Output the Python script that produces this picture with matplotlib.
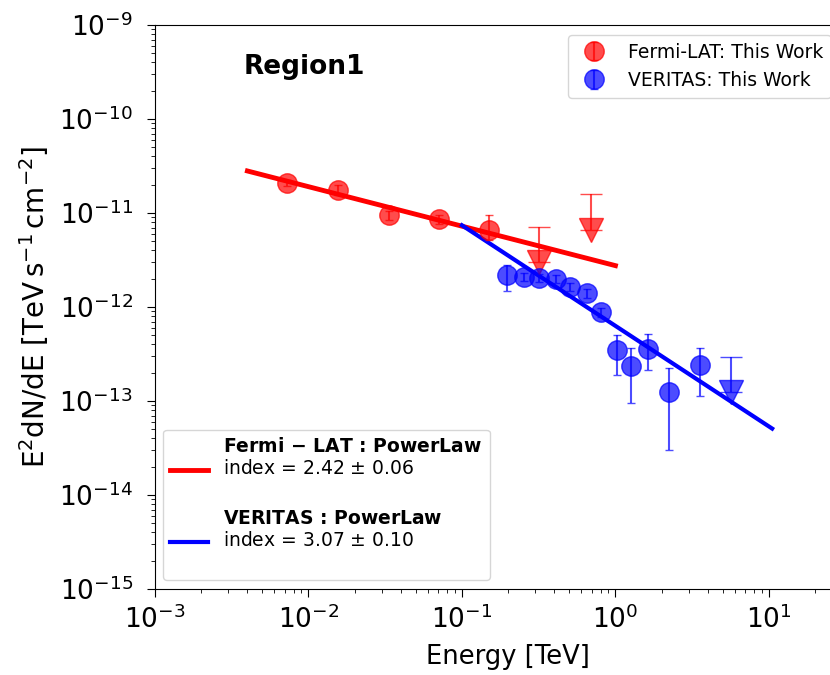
import numpy as np
import matplotlib
matplotlib.use('Agg')
import matplotlib.pyplot as plt

# Fermi-LAT flux points (TeV, TeV s^-1 cm^-2)
fermi_e = [0.00726, 0.0156, 0.0336, 0.0713, 0.151]
fermi_f = [2.08e-11, 1.76e-11, 9.5e-12, 8.6e-12, 6.6e-12]
fermi_lo = [1.5e-12, 2.0e-12, 1.0e-12, 1.0e-12, 1.5e-12]
fermi_hi = [1.5e-12, 2.4e-12, 1.0e-12, 1.0e-12, 2.9e-12]
# Fermi-LAT upper limits: marker position and limit value
fermi_ul_e = [0.32, 0.689]
fermi_ul_mark = [3.0e-12, 6.6e-12]
fermi_ul_val = [7.1e-12, 1.59e-11]

# VERITAS flux points
veritas_e = [0.198, 0.252, 0.32, 0.407, 0.509, 0.649, 0.80, 1.02, 1.27, 1.62, 2.25, 3.54]
veritas_f = [2.19e-12, 2.08e-12, 2.04e-12, 2.0e-12, 1.63e-12, 1.41e-12, 8.85e-13,
             3.49e-13, 2.36e-13, 3.57e-13, 1.25e-13, 2.42e-13]
veritas_lo = [0.71e-12, 0.2e-12, 0.2e-12, 0.2e-12, 0.15e-12, 0.15e-12, 1.0e-13,
              1.6e-13, 1.41e-13, 1.43e-13, 0.95e-13, 1.29e-13]
veritas_hi = [0.61e-12, 0.2e-12, 0.2e-12, 0.2e-12, 0.15e-12, 0.15e-12, 1.0e-13,
              1.51e-13, 1.3e-13, 1.59e-13, 1.0e-13, 1.24e-13]
veritas_ul_e = [5.64]
veritas_ul_mark = [1.25e-13]
veritas_ul_val = [2.94e-13]

# power-law fits: E^2 dN/dE = norm * (E / e0)^(2 - index)
fermi_index, fermi_err = 2.42, 0.06
fermi_norm, fermi_e0 = 2.8e-11, 0.004
fermi_range = [0.004, 1.0]
veritas_index, veritas_err = 3.07, 0.10
veritas_norm, veritas_e0 = 7.4e-12, 0.1
veritas_range = [0.1, 10.5]

fig = plt.figure(figsize=(8.3, 6.75), dpi=100)
ax = fig.add_axes([155 / 830, 86 / 675, 706 / 830, 564 / 675])

# fitted lines
ef = np.logspace(np.log10(fermi_range[0]), np.log10(fermi_range[1]), 50)
ev = np.logspace(np.log10(veritas_range[0]), np.log10(veritas_range[1]), 50)
l1, = ax.plot(ef, fermi_norm * (ef / fermi_e0) ** (2 - fermi_index), color='red', lw=3.5,
              label=r'$\bf{Fermi\,-\,LAT\,:\,PowerLaw}$' + '\n' +
                    'index = %.2f $\\pm$ %.2f' % (fermi_index, fermi_err) + '\n')
l2, = ax.plot(ev, veritas_norm * (ev / veritas_e0) ** (2 - veritas_index), color='blue', lw=3,
              label=r'$\bf{VERITAS\,:\,PowerLaw}$' + '\n' +
                    'index = %.2f $\\pm$ %.2f' % (veritas_index, veritas_err) + '\n')

# data points
p1 = ax.errorbar(fermi_e, fermi_f, yerr=[fermi_lo, fermi_hi], fmt='o', color='red', alpha=0.7,
                 ms=14, capsize=3, elinewidth=1.5, label='Fermi-LAT: This Work')
ax.errorbar(fermi_ul_e, fermi_ul_mark,
            yerr=[np.zeros(len(fermi_ul_e)), np.array(fermi_ul_val) - np.array(fermi_ul_mark)],
            fmt='v', color='red', alpha=0.7, ms=17, capsize=8, elinewidth=1.5)
p2 = ax.errorbar(veritas_e, veritas_f, yerr=[veritas_lo, veritas_hi], fmt='o', color='blue',
                 alpha=0.7, ms=14, capsize=3, elinewidth=1.5, label='VERITAS: This Work')
ax.errorbar(veritas_ul_e, veritas_ul_mark,
            yerr=[np.zeros(len(veritas_ul_e)), np.array(veritas_ul_val) - np.array(veritas_ul_mark)],
            fmt='v', color='blue', alpha=0.7, ms=17, capsize=8, elinewidth=1.5)

ax.set_xscale('log')
ax.set_yscale('log')
ax.set_xlim(1e-3, 10 ** 1.6)
ax.set_ylim(1e-15, 1e-9)
ax.tick_params(axis='both', which='major', labelsize=19, length=6, pad=6)
ax.tick_params(axis='y', which='major', pad=10)
ax.tick_params(axis='both', which='minor', length=3)
ax.set_xlabel('Energy [TeV]', fontsize=18.5, labelpad=7)
ax.set_ylabel(r'E$^2$dN/dE [TeV$\,$s$^{-1}\,$cm$^{-2}$]', fontsize=20, labelpad=6)

ax.text(0.125, 0.926, 'Region1', transform=ax.transAxes, fontsize=19, fontweight='bold',
        va='center', ha='left')

leg1 = ax.legend(handles=[p1, p2], loc='upper left', bbox_to_anchor=(0.585, 0.982),
                 borderaxespad=0, fontsize=13.5)
ax.add_artist(leg1)
ax.legend(handles=[l1, l2], loc='lower left', bbox_to_anchor=(0.0113, 0.016),
          borderaxespad=0, fontsize=13.5)

fig.savefig('out.png', dpi=100)
